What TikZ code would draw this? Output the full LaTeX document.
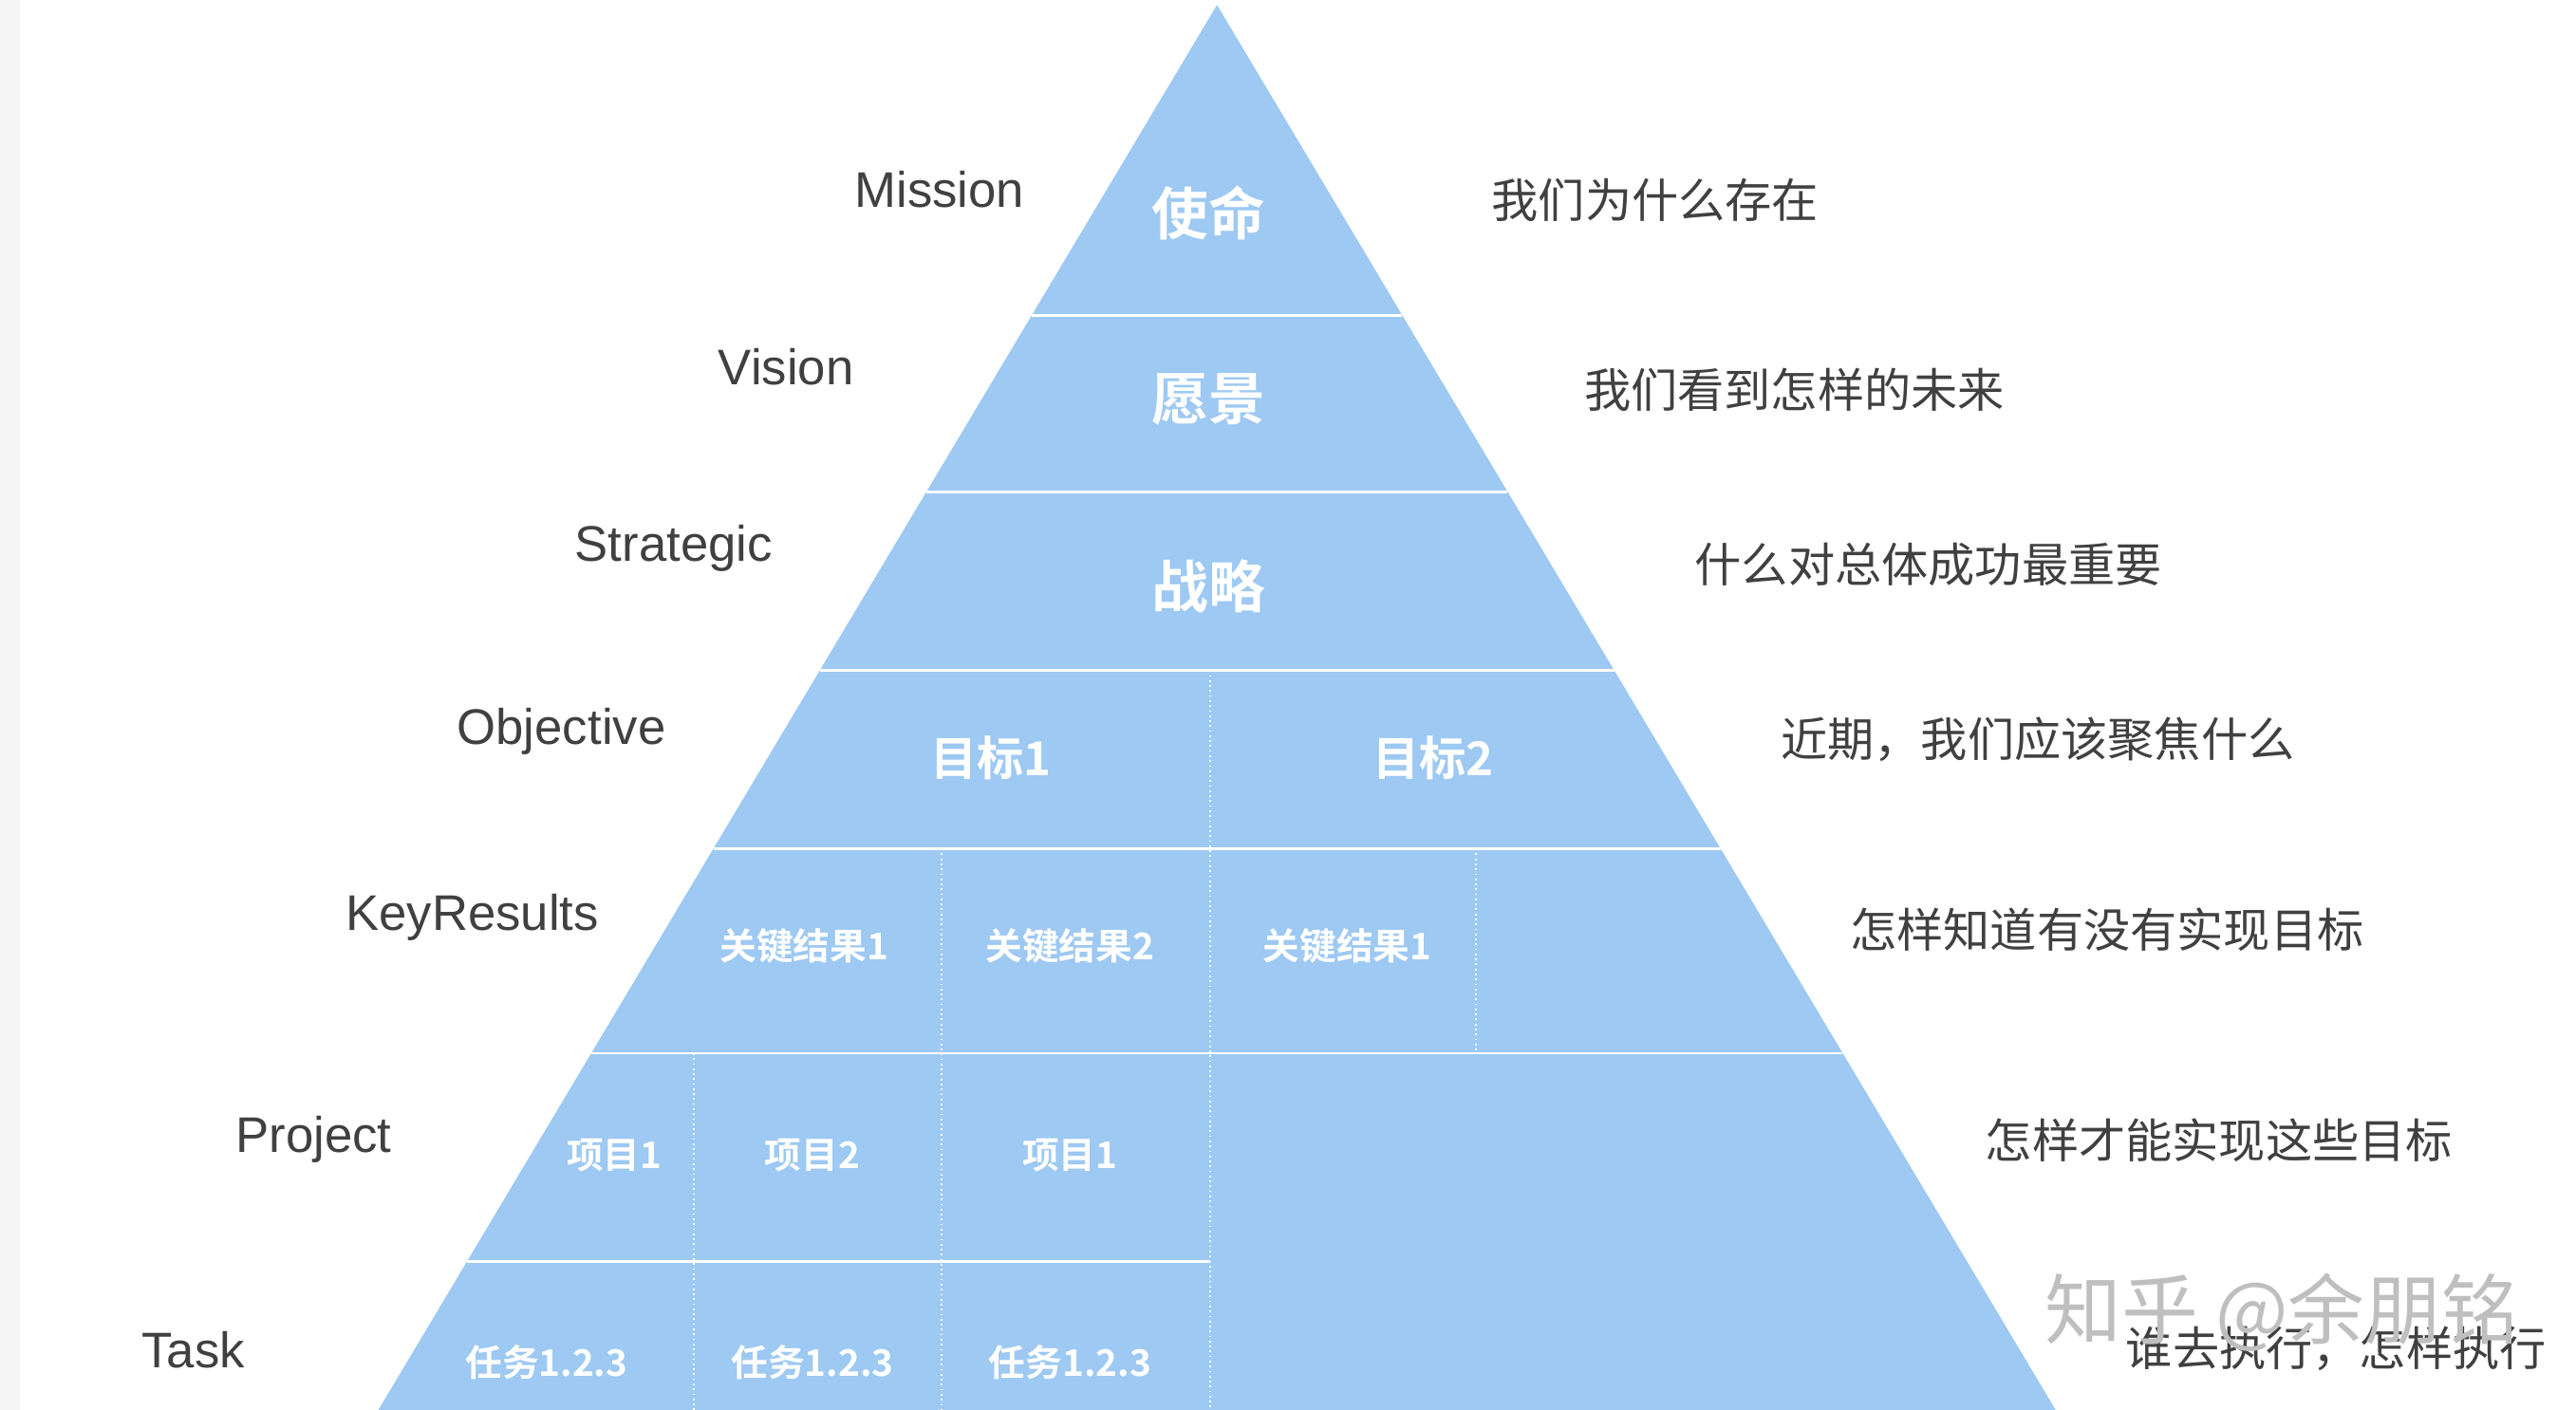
\documentclass[tikz,border=0pt]{standalone}
\usepackage{fontspec}
\setmainfont{Liberation Sans}
\newfontfamily\cjk{Noto Sans CJK SC}
\newfontfamily\cjkb{Noto Sans CJK SC}[BoldFont={* Bold}]
\begin{document}
\begin{tikzpicture}[x=0.0174cm,y=-0.0174cm,
  lbl/.style={text=black!75,font=\fontsize{15}{15}\selectfont,anchor=center,inner sep=0},
  desc/.style={text=black!75,font=\cjk\fontsize{14}{14}\selectfont,anchor=west,inner sep=0},
  big/.style={text=white,font=\cjkb\bfseries\fontsize{17}{17}\selectfont,inner sep=0},
  mid/.style={text=white,font=\cjkb\bfseries\fontsize{14}{14}\selectfont,inner sep=0},
  sml/.style={text=white,font=\cjkb\bfseries\fontsize{11}{11}\selectfont,inner sep=0},
  sep/.style={white,line width=0.8pt},
  dsep/.style={white,line width=0.5pt,densely dotted}]
\useasboundingbox (0,0) rectangle (1560,854);
\fill[black!4] (0,0) rectangle (12,854);
\definecolor{pyr}{HTML}{9DC9F3}
\coordinate (A) at (737,3);
\coordinate (L) at (228,856);
\coordinate (R) at (1246,856);
\fill[pyr] (A) -- (L) -- (R) -- cycle;
% horizontal separators
\foreach \y in {191,298,406,514,638}{
  \draw[sep] ({737-0.5967*(\y-3)},\y) -- ({737+0.5967*(\y-3)},\y);
}
\draw[sep] ({737-0.5967*(764-3)},764) -- (733,764);
% vertical dotted
\draw[dsep] (733,406) -- (733,854);
\draw[dsep] (570,514) -- (570,854);
\draw[dsep] (894,514) -- (894,638);
\draw[dsep] (420,638) -- (420,854);
% pyramid texts
\node[big] (t1) at (732,129) {使命};
\node[big] (t2) at (732,242) {愿景};
\node[big] (t3) at (732,355) {战略};
\node[mid] (o1) at (600,459) {目标1};
\node[mid] (o2) at (868,459) {目标2};
\node[sml] (k1) at (487,573) {关键结果1};
\node[sml] (k2) at (648,573) {关键结果2};
\node[sml] (k3) at (816,573) {关键结果1};
\node[sml] (p1) at (372,700) {项目1};
\node[sml] (p2) at (492,700) {项目2};
\node[sml] (p3) at (648,700) {项目1};
\node[sml] (s1) at (331,825) {任务1.2.3};
\node[sml] (s2) at (492,825) {任务1.2.3};
\node[sml] (s3) at (648,825) {任务1.2.3};
% left labels
\node[lbl] (l1) at (569,115) {Mission};
\node[lbl] (l2) at (476,222) {Vision};
\node[lbl] (l3) at (408,332) {Strategic};
\node[lbl] (l4) at (340,443) {Objective};
\node[lbl] (l5) at (286,556) {KeyResults};
\node[lbl] (l6) at (190,690) {Project};
\node[lbl] (l7) at (117,818) {Task};
% right descriptions
\node[desc] (d1) at (903,121) {我们为什么存在};
\node[desc] (d2) at (959,236) {我们看到怎样的未来};
\node[desc] (d3) at (1026,342) {什么对总体成功最重要};
\node[desc] (d4) at (1078,448) {近期，我们应该聚焦什么};
\node[desc] (d5) at (1120,563) {怎样知道有没有实现目标};
\node[desc] (d6) at (1202,691) {怎样才能实现这些目标};
\node[desc] (d7) at (1287,817) {谁去执行，怎样执行};
% watermark
\node[text=black!25,font=\cjk\fontsize{23}{23}\selectfont,anchor=west,inner sep=0] (wm) at (1238,795) {知乎 @余朋铭};
\end{tikzpicture}
\end{document}
